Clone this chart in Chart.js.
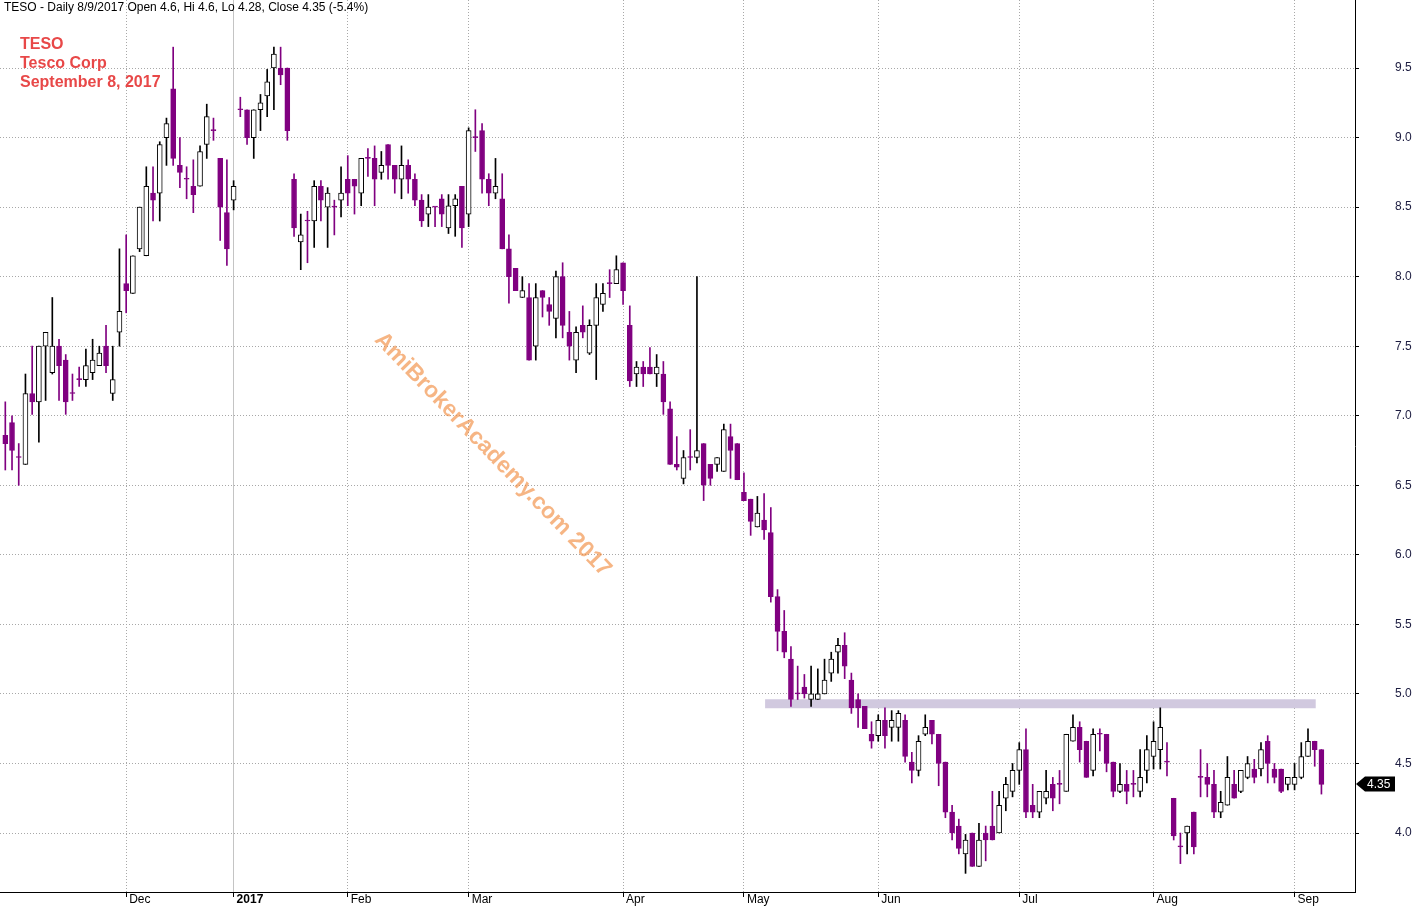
<!DOCTYPE html>
<html>
<head>
<meta charset="utf-8">
<title>TESO - Daily</title>
<script src="https://cdn.jsdelivr.net/npm/chart.js@4.4.1/dist/chart.umd.min.js"></script>
<style>
    html, body { margin: 0; padding: 0; background: #fff; }
    #wrap { width: 1416px; height: 908px; position: relative; }
</style>
</head>
<body>
<div id="wrap"><canvas id="chart" width="1416" height="908"></canvas></div>
<script>
// ====================== DATA (daily bars) ======================
const opens = [
    6.86, 6.95, 6.70, 6.65, 7.16, 7.10, 7.50, 7.31, 7.50, 7.40,
    7.16, 7.26, 7.26, 7.31, 7.36, 7.50, 7.16, 7.60, 7.95, 7.88,
    8.20, 8.15, 8.60, 8.60, 9.00, 9.35, 8.80, 8.70, 8.65, 8.65,
    8.95, 9.05, 8.85, 8.46, 8.55, 9.20, 9.20, 9.00, 9.20, 9.30,
    9.50, 9.50, 9.50, 8.70, 8.25, 8.40, 8.40, 8.65, 8.50, 8.50,
    8.55, 8.70, 8.70, 8.60, 8.85, 8.85, 8.75, 8.95, 8.80, 8.70,
    8.80, 8.70, 8.55, 8.45, 8.50, 8.56, 8.35, 8.51, 8.65, 8.45,
    9.00, 9.05, 8.70, 8.60, 8.56, 8.20, 8.06, 7.85, 7.85, 7.50,
    7.90, 7.80, 7.70, 8.00, 7.60, 7.40, 7.65, 7.45, 7.65, 7.80,
    7.95, 7.95, 8.10, 7.65, 7.30, 7.35, 7.35, 7.30, 7.30, 7.05,
    6.65, 6.55, 6.70, 6.70, 6.80, 6.65, 6.65, 6.60, 6.85, 6.80,
    6.45, 6.40, 6.20, 6.25, 6.16, 5.70, 5.45, 5.25, 5.00, 5.05,
    4.96, 4.96, 5.00, 5.15, 5.30, 5.35, 5.10, 4.96, 4.91, 4.71,
    4.70, 4.81, 4.76, 4.76, 4.81, 4.51, 4.45, 4.71, 4.81, 4.71,
    4.51, 4.15, 4.05, 3.85, 4.00, 3.76, 4.00, 4.05, 4.00, 4.25,
    4.30, 4.45, 4.60, 4.20, 4.15, 4.25, 4.35, 4.35, 4.30, 4.66,
    4.76, 4.66, 4.45, 4.71, 4.71, 4.51, 4.30, 4.35, 4.35, 4.30,
    4.45, 4.55, 4.60, 4.51, 4.25, 3.90, 4.00, 4.15, 4.40, 4.40,
    4.35, 4.15, 4.20, 4.35, 4.30, 4.40, 4.46, 4.46, 4.66, 4.46,
    4.46, 4.35, 4.35, 4.40, 4.55, 4.66, 4.60
];
const highs = [
    7.10, 7.00, 6.80, 7.30, 7.50, 7.50, 7.60, 7.85, 7.55, 7.44,
    7.30, 7.35, 7.48, 7.55, 7.50, 7.65, 7.50, 8.20, 8.30, 8.15,
    8.50, 8.79, 8.79, 8.97, 9.14, 9.65, 9.00, 8.79, 8.84, 8.94,
    9.24, 9.14, 8.85, 8.84, 8.69, 9.29, 9.20, 9.20, 9.31, 9.49,
    9.65, 9.65, 9.50, 8.74, 8.45, 8.47, 8.69, 8.69, 8.64, 8.55,
    8.79, 8.87, 8.70, 8.85, 8.92, 8.94, 8.90, 8.95, 8.80, 8.94,
    8.84, 8.74, 8.59, 8.59, 8.50, 8.59, 8.59, 8.59, 8.65, 9.07,
    9.20, 9.10, 8.74, 8.85, 8.74, 8.30, 8.06, 8.00, 7.95, 7.95,
    7.90, 7.85, 8.04, 8.10, 7.75, 7.64, 7.79, 7.69, 7.95, 7.95,
    8.05, 8.15, 8.10, 7.79, 7.39, 7.39, 7.49, 7.44, 7.39, 7.10,
    6.85, 6.75, 6.90, 8.00, 6.80, 6.65, 6.70, 6.94, 6.94, 6.80,
    6.59, 6.40, 6.42, 6.44, 6.34, 5.75, 5.60, 5.34, 5.20, 5.14,
    5.20, 5.18, 5.25, 5.30, 5.40, 5.44, 5.15, 5.00, 4.91, 4.80,
    4.85, 4.90, 4.88, 4.88, 4.85, 4.58, 4.70, 4.85, 4.81, 4.71,
    4.51, 4.20, 4.10, 3.99, 4.00, 4.07, 4.05, 4.30, 4.30, 4.40,
    4.50, 4.65, 4.75, 4.35, 4.30, 4.45, 4.40, 4.45, 4.71, 4.85,
    4.80, 4.66, 4.75, 4.75, 4.71, 4.51, 4.50, 4.45, 4.45, 4.60,
    4.70, 4.80, 4.90, 4.65, 4.25, 4.00, 4.05, 4.15, 4.60, 4.50,
    4.45, 4.30, 4.55, 4.45, 4.45, 4.55, 4.53, 4.65, 4.70, 4.50,
    4.46, 4.40, 4.50, 4.65, 4.75, 4.66, 4.60
];
const lows = [
    6.61, 6.61, 6.50, 6.65, 7.01, 6.81, 7.11, 7.30, 7.11, 7.01,
    7.11, 7.21, 7.21, 7.26, 7.36, 7.31, 7.11, 7.50, 7.74, 7.88,
    8.18, 8.15, 8.40, 8.40, 8.80, 8.80, 8.64, 8.56, 8.46, 8.65,
    8.85, 8.98, 8.26, 8.08, 8.48, 9.15, 8.95, 8.85, 9.05, 9.15,
    9.20, 9.38, 8.98, 8.29, 8.05, 8.10, 8.21, 8.40, 8.21, 8.30,
    8.43, 8.51, 8.45, 8.51, 8.72, 8.51, 8.70, 8.70, 8.60, 8.56,
    8.60, 8.51, 8.36, 8.36, 8.36, 8.36, 8.31, 8.29, 8.21, 8.36,
    8.90, 8.60, 8.51, 8.56, 8.20, 7.81, 7.90, 7.85, 7.40, 7.40,
    7.71, 7.65, 7.56, 7.56, 7.40, 7.31, 7.56, 7.44, 7.26, 7.75,
    7.85, 7.95, 7.80, 7.21, 7.21, 7.21, 7.30, 7.21, 7.01, 6.65,
    6.61, 6.51, 6.61, 6.66, 6.39, 6.50, 6.60, 6.60, 6.55, 6.54,
    6.39, 6.14, 6.20, 6.11, 5.66, 5.31, 5.26, 4.91, 4.96, 4.97,
    4.91, 4.96, 5.00, 5.09, 5.15, 5.11, 4.86, 4.76, 4.75, 4.61,
    4.66, 4.61, 4.66, 4.66, 4.51, 4.36, 4.41, 4.70, 4.64, 4.34,
    4.11, 3.95, 3.85, 3.71, 3.76, 3.76, 3.80, 3.95, 4.00, 4.16,
    4.26, 4.35, 4.11, 4.11, 4.11, 4.21, 4.16, 4.21, 4.30, 4.66,
    4.51, 4.40, 4.41, 4.59, 4.44, 4.26, 4.29, 4.21, 4.26, 4.26,
    4.36, 4.46, 4.46, 4.41, 3.95, 3.78, 3.85, 3.85, 4.26, 4.26,
    4.11, 4.11, 4.20, 4.25, 4.29, 4.39, 4.36, 4.41, 4.36, 4.36,
    4.29, 4.31, 4.31, 4.39, 4.55, 4.48, 4.28
];
const closes = [
    6.80, 6.75, 6.70, 7.16, 7.10, 7.50, 7.60, 7.50, 7.36, 7.10,
    7.16, 7.26, 7.36, 7.40, 7.45, 7.36, 7.26, 7.75, 7.90, 8.15,
    8.50, 8.65, 8.55, 8.95, 9.10, 8.85, 8.75, 8.70, 8.59, 8.90,
    9.15, 9.05, 8.50, 8.20, 8.65, 9.20, 9.00, 9.20, 9.25, 9.40,
    9.60, 9.45, 9.05, 8.35, 8.30, 8.40, 8.65, 8.55, 8.60, 8.50,
    8.60, 8.60, 8.65, 8.85, 8.85, 8.70, 8.80, 8.80, 8.70, 8.80,
    8.70, 8.55, 8.40, 8.50, 8.50, 8.45, 8.51, 8.56, 8.35, 9.05,
    9.00, 8.70, 8.60, 8.65, 8.20, 8.00, 7.90, 7.90, 7.40, 7.85,
    7.85, 7.75, 8.00, 7.65, 7.50, 7.60, 7.60, 7.65, 7.85, 7.88,
    7.95, 8.05, 7.90, 7.25, 7.35, 7.30, 7.30, 7.35, 7.10, 6.65,
    6.63, 6.70, 6.70, 6.75, 6.50, 6.55, 6.70, 6.90, 6.75, 6.54,
    6.39, 6.24, 6.30, 6.18, 5.70, 5.45, 5.30, 4.96, 5.00, 5.00,
    5.00, 5.00, 5.10, 5.25, 5.35, 5.20, 4.90, 4.90, 4.75, 4.66,
    4.81, 4.70, 4.81, 4.86, 4.55, 4.45, 4.66, 4.76, 4.71, 4.50,
    4.15, 4.00, 3.89, 3.95, 3.76, 3.95, 3.95, 3.95, 4.20, 4.35,
    4.45, 4.60, 4.15, 4.15, 4.30, 4.30, 4.25, 4.35, 4.71, 4.76,
    4.60, 4.40, 4.71, 4.71, 4.50, 4.30, 4.35, 4.30, 4.35, 4.40,
    4.60, 4.66, 4.76, 4.51, 3.98, 3.90, 4.05, 3.90, 4.40, 4.35,
    4.15, 4.22, 4.40, 4.25, 4.45, 4.50, 4.40, 4.60, 4.50, 4.40,
    4.30, 4.40, 4.40, 4.55, 4.66, 4.60, 4.35
];

// bar index where each month starts, and its label
const monthStarts = [18, 34, 51, 69, 92, 110, 130, 151, 171, 192];
const monthLabels = ['Dec', '2017', 'Feb', 'Mar', 'Apr', 'May', 'Jun', 'Jul', 'Aug', 'Sep'];
const yearStart = 34;

// price axis labels
const priceTicks = [4.0, 4.5, 5.0, 5.5, 6.0, 6.5, 7.0, 7.5, 8.0, 8.5, 9.0, 9.5];

// support band drawn by the author (bar range and price level)
const bandBars = [113.15, 195.15];
const bandPrice = 4.93;

const headerText = 'TESO - Daily 8/9/2017 Open 4.6, Hi 4.6, Lo 4.28, Close 4.35 (-5.4%)';
const nameLines = ['TESO', 'Tesco Corp', 'September 8, 2017'];
const watermarkText = 'AmiBrokerAcademy.com 2017';

// ====================== BUILD DATASETS ======================
const PURPLE = '#800080';
const FONT = "'Liberation Sans', Arial, sans-serif";

const barIdx = closes.map((_, i) => i);
const isUp = barIdx.map(i => closes[i] > opens[i]);
const wickData = barIdx.map(i => ({ x: i, y: [lows[i], highs[i]] }));
const bodyData = barIdx.map(i => ({ x: i, y: [opens[i], closes[i]] }));
const bandData = bandBars.map(b => ({ x: b, y: bandPrice }));
const lastClose = closes[closes.length - 1];

// text, watermark and last-price tag
const overlayPlugin = {
    id: 'overlay',
    beforeDatasetsDraw(chart) {
        const ctx = chart.ctx;
        const xs = chart.scales.x, ys = chart.scales.y;
        // watermark sits in the middle of the falling leg
        const cx = xs.getPixelForValue(72.6);
        const cy = ys.getPixelForValue(6.72);
        ctx.save();
        ctx.translate(cx, cy);
        ctx.rotate(46 * Math.PI / 180);
        ctx.font = 'bold 23px ' + FONT;
        ctx.fillStyle = 'rgba(241,136,56,0.62)';
        ctx.textAlign = 'center';
        ctx.textBaseline = 'middle';
        ctx.fillText(watermarkText, 0, 0);
        ctx.restore();
    },
    afterDraw(chart) {
        const ctx = chart.ctx;
        const ys = chart.scales.y;
        ctx.save();
        ctx.textAlign = 'left';
        ctx.textBaseline = 'alphabetic';
        ctx.fillStyle = '#000';
        ctx.font = '12px ' + FONT;
        ctx.fillText(headerText, 4, 11);

        ctx.fillStyle = '#e84848';
        ctx.font = 'bold 16px ' + FONT;
        nameLines.forEach((t, k) => ctx.fillText(t, 20, 49 + k * 19));

        // last price tag on the price axis
        const y = Math.round(ys.getPixelForValue(lastClose));
        const x0 = chart.chartArea.right + 1;
        ctx.fillStyle = '#000';
        ctx.beginPath();
        ctx.moveTo(x0, y);
        ctx.lineTo(x0 + 9, y - 7.5);
        ctx.lineTo(x0 + 39, y - 7.5);
        ctx.lineTo(x0 + 39, y + 7.5);
        ctx.lineTo(x0 + 9, y + 7.5);
        ctx.closePath();
        ctx.fill();
        ctx.fillStyle = '#fff';
        ctx.font = '12px ' + FONT;
        ctx.textBaseline = 'middle';
        ctx.fillText(lastClose.toFixed(2), x0 + 11, y + 0.5);
        ctx.restore();
    }
};

new Chart(document.getElementById('chart'), {
    type: 'bar',
    data: {
        datasets: [
            {
                type: 'line',
                label: 'band',
                data: bandData,
                borderColor: '#d1c9df',
                borderWidth: 9,
                borderCapStyle: 'butt',
                pointRadius: 0,
                fill: false,
                order: 3
            },
            {
                label: 'wick',
                data: wickData,
                backgroundColor: isUp.map(u => u ? '#000' : PURPLE),
                borderWidth: 0,
                barThickness: 1,
                grouped: false,
                order: 2
            },
            {
                label: 'body',
                data: bodyData,
                backgroundColor: isUp.map(u => u ? '#fff' : PURPLE),
                borderColor: isUp.map(u => u ? '#000' : PURPLE),
                borderWidth: 1,
                borderSkipped: false,
                barThickness: 5,
                minBarLength: 1,
                grouped: false,
                order: 1
            }
        ]
    },
    options: {
        responsive: false,
        animation: false,
        events: [],
        layout: { padding: 0 },
        plugins: {
            legend: { display: false },
            tooltip: { enabled: false }
        },
        scales: {
            x: {
                type: 'linear',
                min: -0.79,
                max: 201.0,
                offset: false,
                afterBuildTicks: s => { s.ticks = monthStarts.map(v => ({ value: v })); },
                afterFit: s => {
                    s.height = 16;
                    s.paddingLeft = 0;
                    s.paddingRight = 0;
                },
                grid: {
                    offset: false,
                    color: c => (c.tick && c.tick.value === yearStart) ? '#c4c4c4' : '#a8a8a8',
                    tickLength: 5,
                    tickColor: '#000'
                },
                border: {
                    display: true,
                    color: '#000',
                    dash: c => (c.tick && c.tick.value === yearStart) ? [] : [1, 2]
                },
                ticks: {
                    autoSkip: false,
                    maxRotation: 0,
                    align: 'start',
                    labelOffset: 3,
                    padding: -5,
                    color: '#000',
                    font: c => ({
                        family: FONT,
                        size: 12,
                        weight: (c.tick && c.tick.value === yearStart) ? 'bold' : 'normal'
                    }),
                    callback: (v, i) => monthLabels[i]
                }
            },
            y: {
                type: 'linear',
                position: 'right',
                min: 3.576,
                max: 9.989,
                beginAtZero: false,
                afterBuildTicks: s => { s.ticks = priceTicks.map(v => ({ value: v })); },
                afterFit: s => {
                    s.width = 61;
                    // label padding must not shrink the plot vertically
                    s.paddingTop = 0;
                    s.paddingBottom = 0;
                },
                grid: {
                    color: '#a8a8a8',
                    tickLength: 4,
                    tickColor: '#000'
                },
                border: { display: true, color: '#000', dash: [1, 2] },
                ticks: {
                    padding: 36,
                    color: '#1c1c40',
                    font: { family: FONT, size: 12 },
                    callback: v => Number(v).toFixed(1)
                }
            }
        }
    },
    plugins: [overlayPlugin]
});
</script>
</body>
</html>
